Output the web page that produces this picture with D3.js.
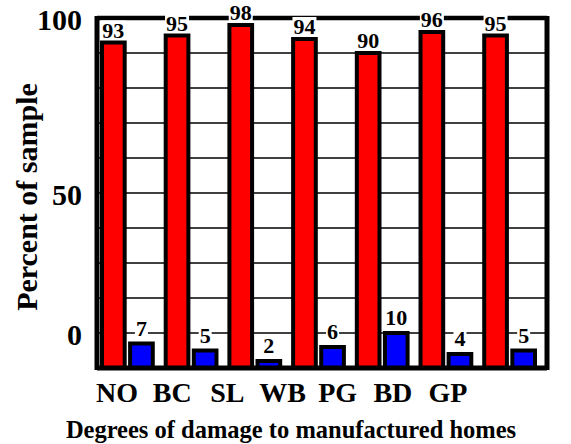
<!DOCTYPE html>
<html>
<meta charset="utf-8">
<head>
<script src="https://d3js.org/d3.v7.min.js"></script>
<style>
  body { margin: 0; background: #fff; }
  text { font-family: "Liberation Serif", "Times New Roman", serif; }
</style>
</head>
<body>
<div id="chart"></div>
<script>
// categories and values
var categories = ["NO", "BC", "SL", "WB", "PG", "BD", "GP"];
var redValues = [93, 95, 98, 94, 90, 96, 95];
var blueValues = [7, 5, 2, 6, 10, 4, 5];
// tick positions and the labels printed at them (the "0" sits on the 10 line in the original)
var tickValues = [100, 50, 10];
var tickLabels = ["100", "50", "0"];
var gridValues = [10, 20, 30, 40, 50, 60, 70, 80, 90];

var width = 571, height = 444;
var plot = {left: 97, right: 547, top: 18, bottom: 368};

var svg = d3.select("#chart").append("svg")
    .attr("width", width)
    .attr("height", height);

var y = d3.scaleLinear().domain([0, 100]).range([plot.bottom, plot.top]);

var x0 = d3.scaleBand().domain(categories).range([100, 537])
    .paddingInner(0.14).paddingOuter(0);
var x1 = d3.scaleBand().domain(["red", "blue"]).range([0, x0.bandwidth()])
    .paddingInner(0.05);

// labels under the axis are not centred on the groups in the original
var xLabel = d3.scalePoint().domain(categories).range([117, 448]);

// grid lines
svg.append("g").selectAll("line")
  .data(gridValues)
  .enter().append("line")
  .attr("x1", plot.left).attr("x2", plot.right)
  .attr("y1", function(d) { return y(d); })
  .attr("y2", function(d) { return y(d); })
  .attr("stroke", "#000")
  .attr("stroke-width", 1.6);

// top frame
svg.append("line")
  .attr("x1", plot.left).attr("x2", plot.right)
  .attr("y1", y(100)).attr("y2", y(100))
  .attr("stroke", "#000").attr("stroke-width", 4.5);

var data = categories.map(function(c, i) {
  return {cat: c, vals: [{key: "red", v: redValues[i]}, {key: "blue", v: blueValues[i]}]};
});

var groups = svg.append("g").selectAll("g")
  .data(data)
  .enter().append("g")
  .attr("transform", function(d) { return "translate(" + x0(d.cat) + ",0)"; });

groups.selectAll("rect")
  .data(function(d) { return d.vals; })
  .enter().append("rect")
  .attr("x", function(d) { return x1(d.key) + 2; })
  .attr("width", x1.bandwidth() - 4)
  .attr("y", function(d) { return y(d.v); })
  .attr("height", function(d) { return plot.bottom - y(d.v); })
  .attr("fill", function(d) { return d.key == "red" ? "#ff0000" : "#0000ff"; })
  .attr("stroke", "#000")
  .attr("stroke-width", 4);

// value labels with white boxes that cut the grid lines
var labels = groups.selectAll("g.lab")
  .data(function(d) { return d.vals; })
  .enter().append("g").attr("class", "lab");

labels.append("rect").attr("fill", "#fff");
labels.append("text")
  .attr("x", function(d) { return x1(d.key) + x1.bandwidth() / 2; })
  .attr("y", function(d) { return y(d.v) - (d.key == "red" ? 5 : 8); })
  .attr("text-anchor", "middle")
  .attr("font-size", 22)
  .attr("font-weight", "bold")
  .text(function(d) { return d.v; });

labels.each(function() {
  var g = d3.select(this);
  var b = g.select("text").node().getBBox();
  g.select("rect")
    .attr("x", b.x - 1).attr("y", b.y + 3)
    .attr("width", b.width + 2).attr("height", b.height - 6);
});

// frame: left, right, bottom
svg.append("line")
  .attr("x1", plot.left).attr("x2", plot.left)
  .attr("y1", plot.top - 2).attr("y2", plot.bottom + 2)
  .attr("stroke", "#000").attr("stroke-width", 5);
svg.append("line")
  .attr("x1", plot.right).attr("x2", plot.right)
  .attr("y1", plot.top - 2).attr("y2", plot.bottom + 2)
  .attr("stroke", "#000").attr("stroke-width", 5);
svg.append("line")
  .attr("x1", plot.left).attr("x2", plot.right)
  .attr("y1", plot.bottom).attr("y2", plot.bottom)
  .attr("stroke", "#000").attr("stroke-width", 5);

// y tick labels
svg.append("g").selectAll("text")
  .data(tickValues)
  .enter().append("text")
  .attr("x", 82)
  .attr("y", function(d) { return y(d) + 12; })
  .attr("text-anchor", "end")
  .attr("font-size", 30)
  .attr("font-weight", "bold")
  .text(function(d, i) { return tickLabels[i]; });

// x labels
svg.append("g").selectAll("text")
  .data(categories)
  .enter().append("text")
  .attr("x", function(d) { return xLabel(d); })
  .attr("y", 402)
  .attr("text-anchor", "middle")
  .attr("font-size", 28)
  .attr("font-weight", "bold")
  .text(function(d) { return d; });

// axis titles
svg.append("text")
  .attr("transform", "translate(37,197) rotate(-90)")
  .attr("text-anchor", "middle")
  .attr("font-size", 30)
  .attr("font-weight", "bold")
  .text("Percent of sample");

svg.append("text")
  .attr("x", 291)
  .attr("y", 438)
  .attr("text-anchor", "middle")
  .attr("font-size", 24.5)
  .attr("font-weight", "bold")
  .text("Degrees of damage to manufactured homes");
</script>
</body>
</html>
